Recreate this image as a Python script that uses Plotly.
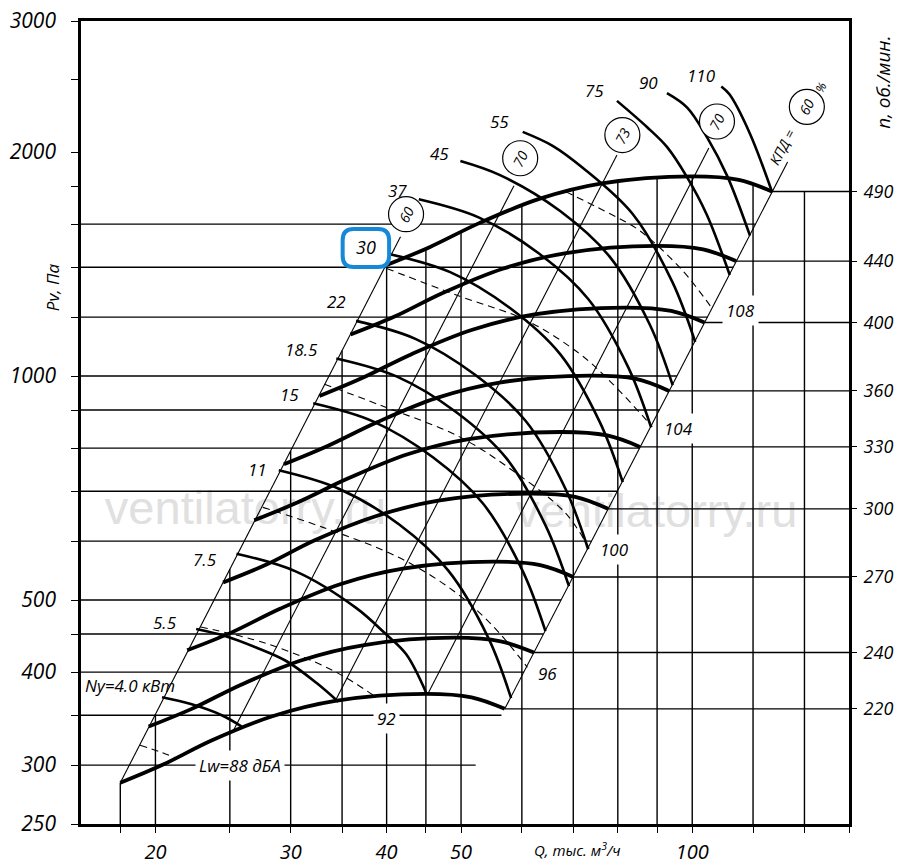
import numpy as np
import plotly.graph_objects as go

FONT = "Open Sans, Liberation Sans, DejaVu Sans"

# axis limits (Q, тыс. м3/ч and Pv, Па, both logarithmic)
q_range = [16, 160]
p_range = [250, 3000]

# rpm curves, n об/мин
rpm = [220, 240, 270, 300, 330, 360, 400, 440, 490]
rpm_q = [
    [18.0, 20.4, 23.7, 28.4, 34.3, 44.9, 51.6, 57.0],
    [19.6, 22.3, 25.9, 31.0, 37.4, 49.0, 56.3, 62.2],
    [22.0, 25.1, 29.1, 34.8, 42.0, 55.1, 63.4, 70.0],
    [24.5, 27.9, 32.3, 38.7, 46.7, 61.2, 70.4, 77.7],
    [26.9, 30.6, 35.6, 42.6, 51.4, 67.4, 77.5, 85.5],
    [29.4, 33.4, 38.8, 46.4, 56.1, 73.5, 84.5, 93.3],
    [32.7, 37.1, 43.1, 51.6, 62.3, 81.6, 93.9, 103.7],
    [35.9, 40.9, 47.4, 56.8, 68.5, 89.8, 103.3, 114.0],
    [40.0, 45.5, 52.8, 63.2, 76.3, 100.0, 115.0, 127.0],
]
rpm_p = [
    [284, 300, 324, 349, 366, 374, 370, 357],
    [338, 357, 385, 415, 435, 445, 440, 425],
    [428, 452, 487, 525, 551, 563, 557, 537],
    [528, 558, 602, 648, 680, 695, 688, 663],
    [640, 676, 728, 785, 823, 841, 832, 803],
    [761, 804, 866, 934, 980, 1001, 991, 955],
    [940, 993, 1070, 1153, 1210, 1236, 1223, 1180],
    [1137, 1201, 1294, 1395, 1463, 1496, 1480, 1427],
    [1410, 1490, 1605, 1730, 1815, 1855, 1835, 1770],
]

# power curves Ny, кВт
power_lab = ["Ny=4.0 кВт", "5.5", "7.5", "11", "15", "18.5", "22", "30",
             "37", "45", "55", "75", "90", "110"]
power_q = [
    [20.4, 22.3, 24.4, 25.9],
    [22.6, 24.7, 27.0, 29.6, 32.4, 34.6],
    [25.5, 30.5, 36.5, 39.9, 42.4, 45.0],
    [28.95, 34.6, 41.5, 48.1, 54.3, 58.1],
    [32.1, 38.4, 46.0, 53.4, 60.2, 64.4],
    [34.4, 41.2, 49.3, 57.3, 64.5, 69.1],
    [36.5, 43.6, 52.2, 60.7, 68.4, 73.2],
    [40.4, 48.4, 57.9, 67.3, 75.8, 81.2],
    [44.05, 52.7, 63.1, 73.25, 82.55, 88.4],
    [49.9, 56.2, 67.3, 78.15, 88.1, 94.3],
    [60.15, 65.8, 72.0, 83.6, 94.2, 100.9],
    [79.8, 87.3, 92.7, 98.4, 104.5, 111.9],
    [92.7, 98.5, 104.6, 111.0, 118.9],
    [109.1, 111.8, 118.7, 127.1],
]
power_p = [
    [370, 362, 350, 338],
    [457, 447, 432, 414, 387, 365],
    [577, 546, 488, 450, 423, 376],
    [747, 706, 632, 548, 444, 369],
    [919, 869, 777, 674, 546, 454],
    [1056, 999, 894, 775, 628, 522],
    [1186, 1122, 1003, 870, 705, 585],
    [1458, 1379, 1234, 1070, 867, 720],
    [1728, 1634, 1462, 1268, 1027, 853],
    [1945, 1862, 1666, 1445, 1171, 972],
    [2129, 2039, 1905, 1652, 1338, 1111],
    [2343, 2161, 2032, 1852, 1646, 1367],
    [2400, 2295, 2091, 1859, 1544],
    [2450, 2391, 2125, 1765],
]
power_lab_q = [18.55, 20.6, 23.2, 27.2, 29.9, 31.0, 34.4, 37.6, 41.3, 46.9, 56.1, 74.5, 87.6, 102.7]
power_lab_p = [384, 466, 567, 749, 943, 1084, 1259, 1489, 1778, 1992, 2198, 2423, 2479, 2538]

# noise curves Lw, дБА (dashed)
noise_lab = ["Lw=88 дБА", "92", "96", "100", "104", "108"]
noise_q = [
    [19.1, 20.2, 21.2],
    [22.9, 27.9, 34.05, 38.8],
    [27.6, 33.05, 41.4, 48.8, 54.95, 61.0],
    [33.2, 39.2, 49.7, 58.3, 68.4, 73.4],
    [40.0, 49.7, 60.7, 71.2, 78.7, 88.7],
    [68.5, 77.0, 85.2, 97.0, 106.1],
]
noise_p = [
    [319, 313, 307],
    [460, 437, 402, 370],
    [666, 626, 571, 515, 462, 406],
    [975, 914, 829, 747, 654, 587],
    [1395, 1281, 1189, 1073, 977, 855],
    [1768, 1665, 1571, 1388, 1233],
]
noise_lab_q = [25.8, 40.0, 64.8, 79.1, 96.0, 115.7]
noise_lab_p = [300, 347, 398, 585, 850, 1223]

# efficiency lines КПД, %
eff_lab = ["60", "70", "73", "70", "60"]
eff_q = [[18.0, 41.7], [25.2, 58.6], [34.3, 79.8], [45.2, 105.1], [57.0, 133.1]]
eff_p = [[284, 1539], [332, 1802], [366, 1981], [373, 2025], [357, 1939]]
eff_circle_q = [42.4, 59.7, 81.1, 107.7, 141.0]
eff_circle_p = [1650, 1962, 2108, 2198, 2300]

# grid
grid_p = [300, 350, 400, 450, 500, 600, 700, 800, 900, 1000, 1200, 1400, 1600]
grid_q = [18, 20, 25, 30, 35, 40, 45, 50, 60, 70, 80, 90, 100, 120, 140]
y_ticks = [250, 300, 350, 400, 450, 500, 600, 700, 800, 900, 1000, 1200, 1400,
           1600, 1800, 2000, 2500, 3000]
y_labels = ["250", "300", "", "400", "", "500", "", "", "", "", "1000", "", "",
            "", "", "2000", "", "3000"]
x_ticks = [18, 20, 25, 30, 35, 40, 45, 50, 60, 70, 80, 90, 100, 120, 140, 160]
x_labels = ["", "20", "", "30", "", "40", "", "50", "", "", "", "", "100", "", "", ""]


def upper_p(q):
    # top edge of the working field: left boundary, 490 curve, 490 level
    top_q, top_p = rpm_q[-1], rpm_p[-1]
    if q <= top_q[0]:
        return 10 ** np.interp(np.log10(q), np.log10(eff_q[0]), np.log10(eff_p[0]))
    if q >= top_q[-1]:
        return top_p[-1]
    return 10 ** np.interp(np.log10(q), np.log10(top_q), np.log10(top_p))


def right_q(p):
    # right boundary (КПД 60 %) extended as a straight line in log-log
    lq, lp = np.log10(eff_q[-1]), np.log10(eff_p[-1])
    k = (lq[1] - lq[0]) / (lp[1] - lp[0])
    return 10 ** (lq[0] + (np.log10(p) - lp[0]) * k)


fig = go.Figure()

# watermark under everything
fig.add_trace(go.Scatter(
    x=[26.2, 89.9], y=[656, 650], mode="text",
    text=["ventilatorry.ru", "ventilatorry.ru"],
    textfont=dict(family="Liberation Sans, Arial", size=47, color="#e0e0e0"),
    hoverinfo="skip", showlegend=False))

# grid lines
gx, gy = [], []
for p in grid_p:
    gx += [q_range[0], right_q(p), None]
    gy += [p, p, None]
for q in grid_q:
    gx += [q, q, None]
    gy += [p_range[0], upper_p(q), None]
fig.add_trace(go.Scatter(x=gx, y=gy, mode="lines",
                         line=dict(color="black", width=1.4),
                         hoverinfo="skip", showlegend=False))

# rpm levels carried to the right axis
rx, ry = [], []
for qs, ps in zip(rpm_q, rpm_p):
    rx += [qs[-1], q_range[1], None]
    ry += [ps[-1], ps[-1], None]
fig.add_trace(go.Scatter(x=rx, y=ry, mode="lines", yaxis="y2",
                         line=dict(color="black", width=1.4),
                         hoverinfo="skip", showlegend=False))

# efficiency lines
for qs, ps in zip(eff_q, eff_p):
    fig.add_trace(go.Scatter(x=qs, y=ps, mode="lines",
                             line=dict(color="black", width=1.1),
                             hoverinfo="skip", showlegend=False))

# noise (dashed)
for qs, ps in zip(noise_q, noise_p):
    fig.add_trace(go.Scatter(x=qs, y=ps, mode="lines",
                             line=dict(color="black", width=1.1, dash="7px,5px", shape="spline"),
                             hoverinfo="skip", showlegend=False))

# power curves
for qs, ps in zip(power_q, power_p):
    fig.add_trace(go.Scatter(x=qs, y=ps, mode="lines",
                             line=dict(color="black", width=2.6, shape="spline"),
                             hoverinfo="skip", showlegend=False))

# rpm curves
for qs, ps in zip(rpm_q, rpm_p):
    fig.add_trace(go.Scatter(x=qs, y=ps, mode="lines",
                             line=dict(color="black", width=3.8, shape="spline"),
                             hoverinfo="skip", showlegend=False))

# efficiency circles
fig.add_trace(go.Scatter(x=eff_circle_q, y=eff_circle_p, mode="markers",
                         marker=dict(symbol="circle", size=35, color="white",
                                     line=dict(color="black", width=1.2)),
                         hoverinfo="skip", showlegend=False))


def label(text, q, p, size=17, angle=0, bg=None, pad=1):
    fig.add_annotation(x=np.log10(q), y=np.log10(p), text=text, showarrow=False,
                       textangle=angle, bgcolor=bg, borderpad=pad,
                       font=dict(family=FONT, size=size, style="italic", color="black"))


for t, q, p in zip(power_lab, power_lab_q, power_lab_p):
    label(t, q, p, size=18 if t == "30" else 17)
for t, q, p in zip(noise_lab, noise_lab_q, noise_lab_p):
    label(t, q, p, bg="white", pad=3)
for t, q, p in zip(eff_lab, eff_circle_q, eff_circle_p):
    label(t, q, p, size=14, angle=-62)
label("КПД =", 130.7, 2031, size=14, angle=-62)
label("%", 147.3, 2446, size=12, angle=-62)

# blue highlight around the 30 кВт label
lx0, lx1 = np.log10(q_range)
ly0, ly1 = np.log10(p_range)
bx = [(np.log10(v) - lx0) / (lx1 - lx0) for v in (35.06, 40.3)]
by = [(np.log10(v) - ly0) / (ly1 - ly0) for v in (1401, 1576)]
rx_, ry_ = 11 / 768, 11 / 803
path = (f"M {bx[0]+rx_},{by[0]} L {bx[1]-rx_},{by[0]} Q {bx[1]},{by[0]} {bx[1]},{by[0]+ry_} "
        f"L {bx[1]},{by[1]-ry_} Q {bx[1]},{by[1]} {bx[1]-rx_},{by[1]} "
        f"L {bx[0]+rx_},{by[1]} Q {bx[0]},{by[1]} {bx[0]},{by[1]-ry_} "
        f"L {bx[0]},{by[0]+ry_} Q {bx[0]},{by[0]} {bx[0]+rx_},{by[0]} Z")
fig.add_shape(type="path", path=path, xref="paper", yref="paper",
              line=dict(color="#1589d6", width=4))

# axis titles
title_font = dict(family=FONT, style="italic", color="black")
fig.add_annotation(x=-0.037, y=0.668, xref="paper", yref="paper", text="Pv, Па",
                   textangle=-90, showarrow=False, xanchor="center", yanchor="middle",
                   font=dict(size=17, **title_font))
fig.add_annotation(x=1.044, y=0.924, xref="paper", yref="paper", text="n, об./мин.",
                   textangle=-90, showarrow=False, xanchor="center", yanchor="middle",
                   font=dict(size=19, **title_font))
fig.add_annotation(x=np.log10(70.8), y=-0.032, xref="x", yref="paper",
                   text="Q, тыс. м<sup>3</sup>/ч", showarrow=False,
                   xanchor="center", yanchor="middle",
                   font=dict(size=15, **title_font))

tick_font = dict(family=FONT, style="italic", color="black")
fig.update_layout(
    width=900, height=867,
    margin=dict(l=81, r=51, t=21, b=43, autoexpand=False),
    paper_bgcolor="white", plot_bgcolor="white",
    showlegend=False,
    xaxis=dict(type="log", range=[lx0, lx1], tickvals=x_ticks, ticktext=x_labels,
               ticks="outside", ticklen=6, tickwidth=1.4, tickcolor="black",
               showgrid=False, zeroline=False, showline=True, mirror=True,
               linecolor="black", linewidth=2.6, ticklabelstandoff=2, automargin=False,
               tickfont=dict(size=20, **tick_font)),
    yaxis=dict(type="log", range=[ly0, ly1], tickvals=y_ticks, ticktext=y_labels,
               ticks="outside", ticklen=7, tickwidth=1.4, tickcolor="black",
               showgrid=False, zeroline=False, showline=True, mirror=True,
               linecolor="black", linewidth=2.6, ticklabelstandoff=11, automargin=False,
               tickfont=dict(size=21, **tick_font)),
    yaxis2=dict(type="log", range=[ly0, ly1], overlaying="y", side="right",
                tickvals=[ps[-1] for ps in rpm_p], ticktext=[str(n) for n in rpm],
                ticks="outside", ticklen=7, tickwidth=1.4, tickcolor="black",
                showgrid=False, zeroline=False, showline=False, ticklabelstandoff=3,
                automargin=False, tickfont=dict(size=18, **tick_font)),
)

# page body has a default margin; remove it so the figure sits at the window corner
fig.write_html("out.html", config={"displayModeBar": False},
               post_script="document.body.style.margin='0';")
